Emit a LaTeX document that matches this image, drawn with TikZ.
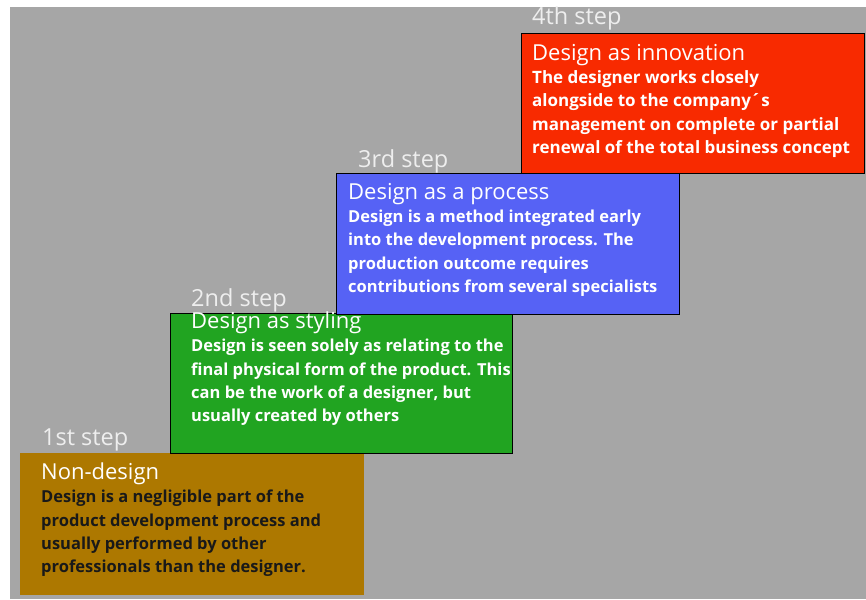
\documentclass[tikz,border=0pt]{standalone}
\usepackage{fontspec}
\setmainfont{Open Sans}
\usepackage{tikz}
\usetikzlibrary{positioning}
\newcommand{\stepWidth}{343pt}
\newcommand{\stepHeight}{140pt}
\newcommand{\stepTitle}{\fontsize{22}{22}\selectfont\mdseries}
\definecolor{stageGray}{HTML}{A6A6A6}
\definecolor{labelWhite}{HTML}{EEEEEE}
\definecolor{innovRed}{HTML}{F82A00}
\definecolor{processBlue}{HTML}{5662F5}
\definecolor{stylingGreen}{HTML}{21A421}
\definecolor{nonBrown}{HTML}{AD7800}

\begin{document}
\begin{tikzpicture}[x=1pt, y=-1pt,
		stepbox/.style={draw=black, line width=0.8pt, anchor=north west, inner sep=0pt,
			minimum width=\stepWidth, minimum height=\stepHeight},
		steplabel/.style={anchor=base west, inner sep=0pt, text=labelWhite,
			font=\fontsize{23.5}{23.5}\selectfont},
		steptext/.style={anchor=base west, inner sep=0pt, align=left, text=white,
			font=\fontsize{16.5}{23.3}\selectfont\bfseries}]
	\useasboundingbox (0,0) rectangle (866,599);
	\fill[white] (0,0) rectangle (866,599);
	\fill[stageGray] (10,7) rectangle (866,599);
	%1st step
	\node[stepbox, draw=none, fill=nonBrown, minimum width=344pt, minimum height=142pt] (nondesign) at (20,453) {};
	\node[steplabel] (nondesignStep) at (42,445) {1st step};
	\node[steptext, text=black!90] (nondesignText) at (41,572.7) {{\stepTitle\color{white}Non-design}\\
		Design is a negligible part of the\\
		product development process and\\
		usually performed by other\\
		professionals than the designer.};
	%2nd step
	\node[stepbox, fill=stylingGreen, minimum width=342pt] (styling) at (170,313) {};
	\node[steplabel] (stylingStep) at (191,306.7) {2nd step};
	\node[steptext] (stylingText) at (191,421.7) {{\stepTitle Design as styling}\\
		Design is seen solely as relating to the\\
		final physical form of the product. This\\
		can be the work of a designer, but\\
		usually created by others};
	%3rd step
	\node[stepbox, fill=processBlue, minimum height=141pt] (process) at (336,173) {};
	\node[steplabel] (processStep) at (358,167.7) {3rd step};
	\node[steptext] (processText) at (348,292.3) {{\stepTitle Design as a process}\\
		Design is a method integrated early\\
		into the development process. The\\
		production outcome requires\\
		contributions from several specialists};
	%4th step
	\node[stepbox, fill=innovRed] (innovation) at (521,33) {};
	\node[steplabel] (innovationStep) at (532,25) {4th step};
	\node[steptext, font=\fontsize{17}{23.3}\selectfont\bfseries] (innovationText) at (532,153.3) {{\stepTitle Design as innovation}\\
		The designer works closely\\
		alongside to the company\textasciiacute s\\
		management on complete or partial\\
		renewal of the total business concept};
\end{tikzpicture}
\end{document}
